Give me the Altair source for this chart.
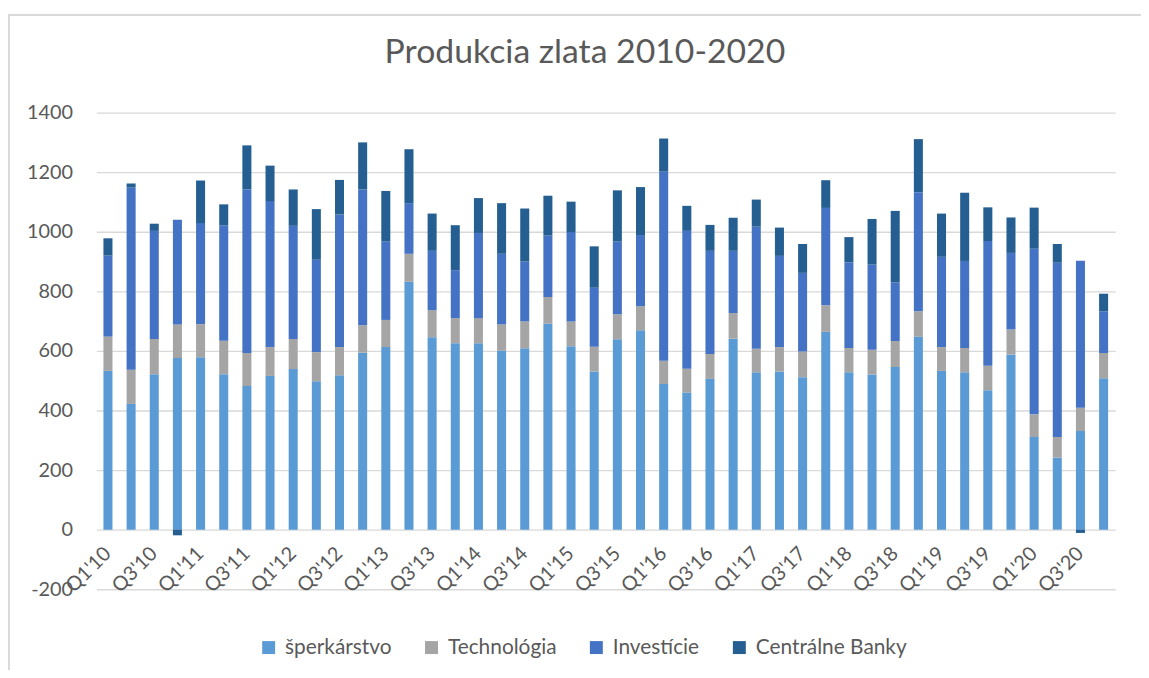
import altair as alt
import pandas as pd

quarters = [f"Q{q}'{y:02d}" for y in range(10, 21) for q in range(1, 5)]
tick_labels = quarters[::2]

series = ["šperkárstvo", "Technológia", "Investície", "Centrálne Banky"]
colors = ["#5B9BD5", "#A5A5A5", "#4472C4", "#255E91"]

jewelry = [533, 422, 522, 576, 579, 522, 482, 516, 539, 498, 518, 594, 613, 832,
           646, 626, 626, 601, 609, 692, 616, 531, 639, 669, 489, 460, 506, 641,
           528, 531, 512, 664, 528, 521, 546, 648, 533, 528, 468, 588, 311, 242,
           331, 508]
technology = [115, 115, 118, 113, 111, 112, 111, 97, 101, 98, 95, 92, 91, 94,
              91, 84, 84, 88, 90, 89, 83, 83, 84, 81, 78, 80, 84, 86,
              79, 82, 86, 89, 82, 83, 87, 85, 80, 82, 82, 84, 76, 69,
              78, 85]
investment = [272, 611, 363, 351, 339, 388, 549, 490, 380, 310, 445, 456, 263, 170,
              199, 161, 286, 237, 201, 206, 300, 198, 244, 239, 635, 463, 346, 209,
              410, 306, 264, 327, 288, 286, 197, 400, 303, 292, 419, 257, 556, 585,
              494, 140]
central_banks = [58, 14, 24, -19, 143, 70, 148, 119, 122, 170, 116, 158, 170, 181,
                 125, 151, 117, 170, 178, 134, 102, 139, 172, 161, 111, 84, 87, 111,
                 91, 95, 97, 93, 84, 153, 240, 178, 145, 229, 113, 119, 138, 63,
                 -11, 59]

rows = []
for i, q in enumerate(quarters):
    for k, (name, vals) in enumerate(zip(series, [jewelry, technology, investment, central_banks])):
        rows.append({"quarter": q, "series": name, "value": vals[i], "order": k})
df = pd.DataFrame(rows)
labels_df = pd.DataFrame({"quarter": tick_labels})

FONT = "Lato"
TXT = "#595959"
GRID = "#D9D9D9"

xenc = alt.X("quarter:N", sort=quarters, title=None,
             scale=alt.Scale(domain=quarters, paddingInner=0.61, paddingOuter=0.305),
             axis=alt.Axis(labels=False, ticks=False, domain=False, grid=False))

bars = alt.Chart(df).mark_bar().encode(
    x=xenc,
    y=alt.Y("value:Q", title=None,
            scale=alt.Scale(domain=[-200, 1400], nice=False),
            axis=alt.Axis(values=list(range(-200, 1401, 200)), labelFont=FONT,
                          labelExpr="'' + datum.value",
                          labelFontSize=20, labelColor=TXT, ticks=False, domain=False,
                          gridColor=GRID, gridWidth=1.3, labelPadding=24)),
    color=alt.Color("series:N", sort=series,
                    scale=alt.Scale(domain=series, range=colors),
                    legend=alt.Legend(orient="none", legendX=163, legendY=528,
                                      direction="horizontal", title=None,
                                      symbolType="square", symbolSize=170,
                                      symbolStrokeWidth=0, labelFont=FONT,
                                      labelFontSize=21, labelColor=TXT,
                                      columnPadding=29, labelOffset=6)),
    order=alt.Order("order:Q"),
)

xlabels = alt.Chart(labels_df).mark_text(
    angle=315, align="right", baseline="middle", font=FONT, fontSize=20,
    color=TXT, dx=-15, dy=15
).encode(
    x=alt.X("quarter:N", sort=quarters),
    y=alt.datum(0),
    text="quarter:N",
)

border_v = alt.Chart(df).mark_rule(color=GRID, strokeWidth=1.3).encode(
    x=alt.value(-88.5), y=alt.value(-98.3), y2=alt.value(600))
border_h = alt.Chart(df).mark_rule(color=GRID, strokeWidth=1.3).encode(
    x=alt.value(-88.5), x2=alt.value(1100), y=alt.value(-98.3))

chart = alt.layer(border_v, border_h, bars, xlabels).properties(
    width=1026, height=480,
    title=alt.TitleParams("Produkcia zlata 2010-2020", font=FONT, fontSize=34,
                          fontWeight="normal", color=TXT, anchor="middle",
                          baseline="alphabetic", dx=-21, offset=-83),
    padding={"left": 89, "top": 103, "right": 26, "bottom": 79},
    autosize=alt.AutoSizeParams(type="none"),
).configure_view(stroke=None)

chart.save("out.html", embed_options={"renderer": "svg", "actions": False})
